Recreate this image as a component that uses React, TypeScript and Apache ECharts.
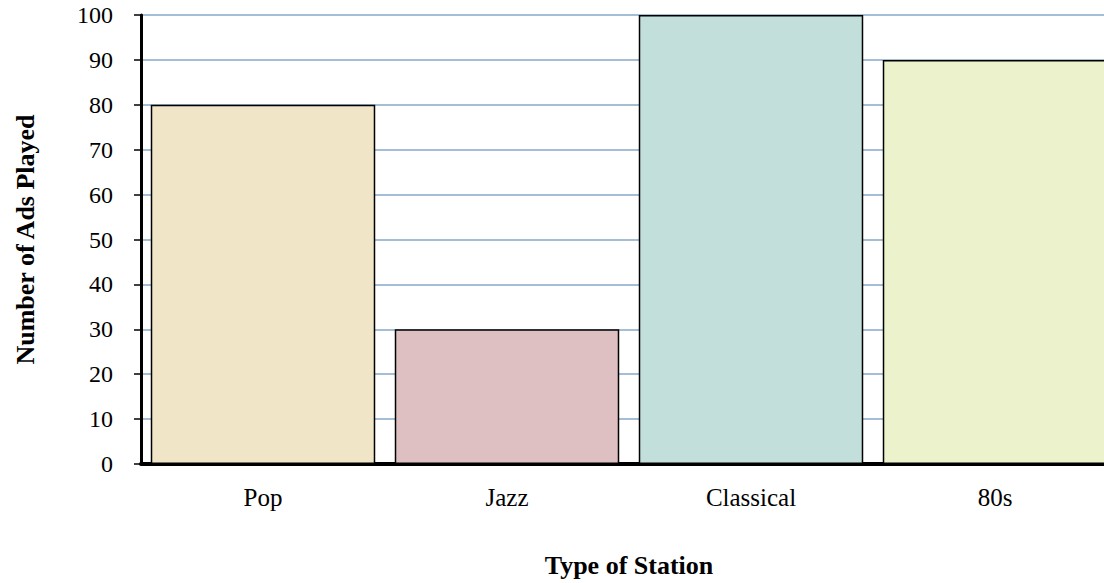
import React, { useEffect, useRef } from "react";
import * as echarts from "echarts";

const categories = ["Pop", "Jazz", "Classical", "80s"];
const adsPlayed = [80, 30, 100, 90];
const barColors = ["#f0e5c6", "#dfc0c2", "#c3dfdb", "#ecf2cb"];

export default function App() {
  const ref = useRef<HTMLDivElement>(null);
  useEffect(() => {
    if (!ref.current) return;
    const chart = echarts.init(ref.current, null, { renderer: "svg" });
    const font = "'Liberation Serif', 'Times New Roman', serif";
    chart.setOption({
      animation: false,
      grid: { left: 141, right: 3, top: 15, bottom: 118, containLabel: false },
      xAxis: {
        type: "category",
        data: categories,
        name: "Type of Station",
        nameLocation: "middle",
        nameGap: 88,
        nameTextStyle: { fontFamily: font, fontSize: 26, fontWeight: "bold", color: "#000" },
        axisLine: { lineStyle: { color: "#000", width: 4 } },
        axisTick: { show: false },
        axisLabel: { fontFamily: font, fontSize: 25, color: "#000", margin: 21 },
      },
      yAxis: {
        type: "value",
        min: 0,
        max: 100,
        interval: 10,
        name: "Number of Ads Played",
        nameLocation: "middle",
        nameGap: 103,
        nameTextStyle: { fontFamily: font, fontSize: 26, fontWeight: "bold", color: "#000" },
        axisLine: { show: true, lineStyle: { color: "#000", width: 3 } },
        axisTick: { show: true, length: 7, lineStyle: { color: "#000", width: 1.5 } },
        axisLabel: { fontFamily: font, fontSize: 24, color: "#000", margin: 28 },
        splitLine: { show: true, lineStyle: { color: "#84a9c9", width: 1.5 } },
      },
      series: [
        {
          type: "bar",
          data: adsPlayed.map((v, i) => ({ value: v, itemStyle: { color: barColors[i] } })),
          barCategoryGap: "8%",
          itemStyle: { borderColor: "#000", borderWidth: 1.5 },
        },
      ],
    });
    return () => chart.dispose();
  }, []);
  return (
    <div
      style={{ position: "fixed", left: 0, top: 0, width: 1104, height: 583, overflow: "hidden", background: "#fff" }}
    >
      <div ref={ref} style={{ width: 1120, height: 583 }} />
    </div>
  );
}
